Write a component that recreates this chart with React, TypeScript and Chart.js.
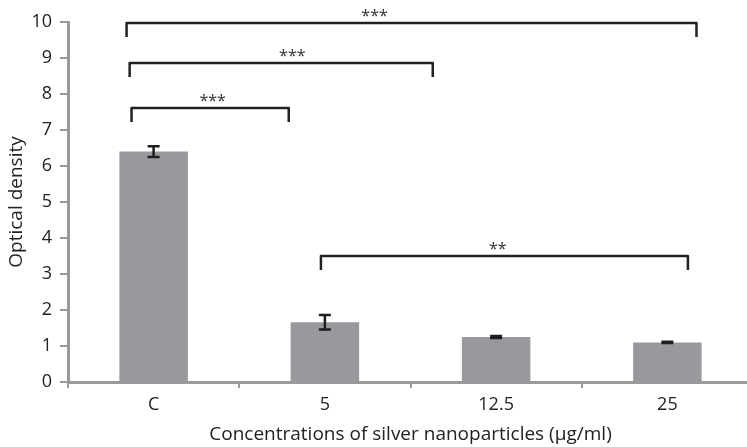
import React, { useEffect, useRef } from "react";
import { Chart, registerables } from "chart.js";

Chart.register(...registerables);

const categories = ["C", "5", "12.5", "25"];
const values = [6.4, 1.66, 1.25, 1.1];
const errors = [0.15, 0.2, 0.03, 0.02];
const yTicks = [0, 1, 2, 3, 4, 5, 6, 7, 8, 9, 10];

// significance brackets: start/end in category-index units, height in data units
const bracketStart = [-0.158, -0.14, -0.129, 0.977];
const bracketEnd = [3.17, 1.63, 0.789, 3.12];
const bracketLevel = [9.97, 8.86, 7.61, 3.5];
const bracketLabelPos = [1.29, 0.81, 0.345, 2.01];
const bracketLabels = ["***", "***", "***", "**"];
const bracketDrop = 0.39;

const FONT = "'Open Sans'";

const overlayPlugin = {
  id: "overlay",
  afterDatasetsDraw(chart: any) {
    const { ctx } = chart;
    const xs = chart.scales.x;
    const ys = chart.scales.y;
    const meta = chart.getDatasetMeta(0);
    ctx.save();
    // error bars
    ctx.strokeStyle = "#1e1e1e";
    ctx.lineWidth = 2.5;
    meta.data.forEach((bar: any, i: number) => {
      const x = bar.x;
      const yTop = ys.getPixelForValue(values[i] + errors[i]);
      const yBot = ys.getPixelForValue(values[i] - errors[i]);
      const cap = 6;
      ctx.beginPath();
      ctx.moveTo(x, yTop);
      ctx.lineTo(x, yBot);
      ctx.moveTo(x - cap, yTop);
      ctx.lineTo(x + cap, yTop);
      ctx.moveTo(x - cap, yBot);
      ctx.lineTo(x + cap, yBot);
      ctx.stroke();
    });
    // brackets
    ctx.strokeStyle = "#222";
    ctx.lineWidth = 2.5;
    ctx.lineJoin = "round";
    bracketStart.forEach((s, i) => {
      const x1 = xs.getPixelForValue(s);
      const x2 = xs.getPixelForValue(bracketEnd[i]);
      const y = ys.getPixelForValue(bracketLevel[i]);
      const yd = ys.getPixelForValue(bracketLevel[i] - bracketDrop);
      ctx.beginPath();
      ctx.moveTo(x1, yd);
      ctx.lineTo(x1, y);
      ctx.lineTo(x2, y);
      ctx.lineTo(x2, yd);
      ctx.stroke();
      ctx.fillStyle = "#3a3a3a";
      ctx.font = `16px 'Noto Sans'`;
      ctx.textAlign = "center";
      ctx.textBaseline = "middle";
      ctx.fillText(bracketLabels[i], xs.getPixelForValue(bracketLabelPos[i]), y - 7);
    });
    ctx.restore();
  },
};

export default function App() {
  const ref = useRef<HTMLCanvasElement>(null);
  useEffect(() => {
    if (!ref.current) return;
    const chart = new Chart(ref.current, {
      type: "bar",
      data: {
        labels: categories,
        datasets: [
          {
            data: values,
            backgroundColor: "#98999c",
            borderWidth: 0,
            categoryPercentage: 1,
            barPercentage: 0.4,
          },
        ],
      },
      options: {
        responsive: false,
        animation: false,
        layout: { padding: { top: 22, right: 7, bottom: 0, left: 0 } },
        plugins: { legend: { display: false }, tooltip: { enabled: false } },
        scales: {
          x: {
            grid: {
              display: true,
              drawOnChartArea: false,
              drawTicks: true,
              tickLength: 6,
              color: "#9a9a9a",
              lineWidth: 2,
              offset: true,
            },
            border: { display: true, color: "#9a9a9a", width: 3 },
            ticks: {
              color: "#222",
              font: { family: FONT, size: 18 },
              padding: 6,
            },
            title: {
              display: true,
              text: "Concentrations of silver nanoparticles (µg/ml)",
              color: "#222",
              font: { family: FONT, size: 19 },
              padding: { top: 0, bottom: 1 },
            },
            afterFit(scale: any) {
              scale.height = 65;
            },
          },
          y: {
            min: 0,
            max: 10,
            afterBuildTicks(scale: any) {
              scale.ticks = yTicks.map((v) => ({ value: v }));
            },
            grid: {
              display: true,
              drawOnChartArea: false,
              drawTicks: true,
              tickLength: 8,
              color: "#9a9a9a",
              lineWidth: 2,
            },
            border: { display: true, color: "#9a9a9a", width: 3 },
            ticks: {
              color: "#222",
              font: { family: FONT, size: 18 },
              padding: 8,
            },
            title: {
              display: true,
              text: "Optical density",
              color: "#222",
              font: { family: FONT, size: 19 },
              padding: { top: 5, bottom: 0 },
            },
            afterFit(scale: any) {
              scale.width = 68;
            },
          },
        },
      },
      plugins: [overlayPlugin],
    });
    return () => chart.destroy();
  }, []);
  return (
    <div
      style={{
        position: "absolute",
        left: 0,
        top: 0,
        width: 747,
        height: 447,
        overflow: "hidden",
        background: "#fff",
      }}
    >
      <canvas ref={ref} width={760} height={447} style={{ width: 760, height: 447, display: "block" }} />
    </div>
  );
}
